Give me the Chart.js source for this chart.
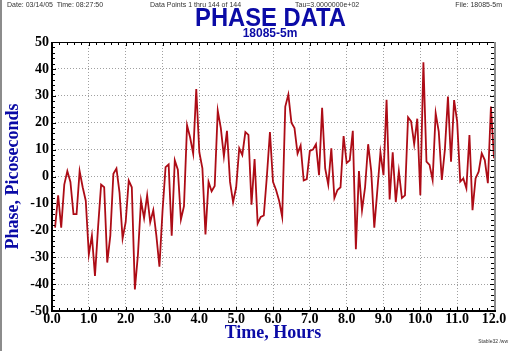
<!DOCTYPE html>
<html>
<head>
<meta charset="utf-8">
<script src="https://cdn.jsdelivr.net/npm/chart.js@4.4.1/dist/chart.umd.min.js"></script>
<style>
html, body { margin: 0; padding: 0; background: #fff; }
#wrap { position: relative; width: 512px; height: 351px; overflow: hidden; background: #fff; }
#edge { position: absolute; left: 0; top: 0; width: 2px; height: 351px; background: #8c8c8c; }
canvas { position: absolute; left: 0; top: 0; }
.hdr { position: absolute; top: 1px; font: 7px/7px 'Liberation Sans', Arial, sans-serif; color: #333; white-space: pre; }
#title { position: absolute; left: 0; width: 541px; top: 5px; text-align: center;
         font: bold 25px/25px 'Liberation Sans', Arial, sans-serif; color: #0b0ba6;
         transform: scaleX(0.95); transform-origin: 270.5px 0; }
#subtitle { position: absolute; left: 0; width: 540px; top: 27px; text-align: center;
            font: bold 12px/12px 'Liberation Sans', Arial, sans-serif; color: #0b0ba6; }
#footer { position: absolute; right: 4px; top: 339px; font: 5px/5px 'Liberation Sans', Arial, sans-serif; color: #333; }
</style>
</head>
<body>
<div id="wrap">
  <canvas id="phaseChart" width="512" height="351"></canvas>
  <div id="edge"></div>
  <div class="hdr" style="left:7px">Date: 03/14/05  Time: 08:27:50</div>
  <div class="hdr" style="left:150px">Data Points 1 thru 144 of 144</div>
  <div class="hdr" style="left:295px">Tau=3.0000000e+02</div>
  <div class="hdr" style="right:10px">File: 18085-5m</div>
  <div id="title">PHASE DATA</div>
  <div id="subtitle">18085-5m</div>
  <div id="footer">Stable32 /ww</div>
</div>
<script>
// sampling interval (s) and phase readings (ps), 144 points
const tauSeconds = 300;
const phasePs = [
  -19, -7, -19, -3, 2, -2, -14, -14, 2, -4,
  -9, -29, -22, -37, -19, -3, -4, -32, -22, 1,
  3, -6, -23, -17, -1.5, -4, -42, -29, -9, -15.5,
  -7, -17, -12.5, -22, -33.5, -13, 3.5, 4.5, -22, 6,
  2.5, -16, -11, 19, 14.5, 8.5, 32.5, 9, 3, -21.5,
  -2, -5.5, -3.5, 24.5, 18, 7.5, 17, -2, -9.5, -4,
  10.5, 8, 16.5, 15.5, -10.5, 6.5, -17.5, -15, -14.5, 0,
  16.5, -2, -5, -9, -15, 26, 30.5, 20, 18, 8.5,
  11.5, -1.5, -1, 9.5, 10, 12, 0.5, 25.5, 3, -3,
  10.5, -8, -5, -4, 15, 5, 6, 17, -27, 2,
  -12.5, -4, 12, 2, -19, -5, 9, 0.5, 28.5, -8.5,
  9, -9.5, 2, -8, -7, 22, 20.5, 12, 21.5, -7,
  42.5, 5.5, 4.3, -1.3, 23.5, 16.7, -1.3, 10, 29.7, 5.5,
  28.4, 20.4, -1.9, -0.7, -4.4, 15.4, -12.5, -0.7, 1.8, 8.6,
  6.1, -2.5, 26, 6.8
];
const xTickValues = [0, 1, 2, 3, 4, 5, 6, 7, 8, 9, 10, 11, 12];
const yTickValues = [-50, -40, -30, -20, -10, 0, 10, 20, 30, 40, 50];

const points = phasePs.map((v, i) => ({ x: (i + 1) * tauSeconds / 3600, y: v }));

const blue = '#0b0ba6';
const serifBold = { family: "'Liberation Serif', 'Times New Roman', serif", weight: 'bold' };

// frame lines and small inward ticks, like the original plot
const framePlugin = {
  id: 'frame',
  afterDraw(chart) {
    const ctx = chart.ctx;
    const ca = chart.chartArea;
    const xs = chart.scales.x, ys = chart.scales.y;
    ctx.save();
    // y ticks (every 2 units)
    ctx.strokeStyle = '#000';
    ctx.lineWidth = 1;
    ctx.beginPath();
    for (let v = -50; v <= 50; v += 2) {
      const y = Math.round(ys.getPixelForValue(v)) + 0.5;
      const len = v % 10 === 0 ? 4 : 3;
      ctx.moveTo(ca.left, y); ctx.lineTo(ca.left + len, y);
      ctx.moveTo(ca.right, y); ctx.lineTo(ca.right - len, y);
    }
    // x ticks (every 0.2 h)
    for (let k = 0; k <= 60; k++) {
      const x = Math.round(xs.getPixelForValue(k * 0.2)) + 0.5;
      const len = k % 5 === 0 ? 4 : 3;
      ctx.moveTo(x, ca.bottom); ctx.lineTo(x, ca.bottom - len);
      ctx.moveTo(x, ca.top); ctx.lineTo(x, ca.top + len);
    }
    ctx.stroke();
    // top line
    ctx.fillStyle = '#000';
    ctx.fillRect(ca.left, ca.top, ca.right - ca.left, 1);
    // right line (grey)
    ctx.fillStyle = '#8c8c8c';
    ctx.fillRect(ca.right, ca.top, 2, ca.bottom - ca.top + 1);
    // left and bottom axes
    ctx.fillStyle = '#000';
    ctx.fillRect(ca.left - 1, ca.top, 2, ca.bottom - ca.top + 1);
    ctx.fillRect(ca.left - 1, ca.bottom - 1, ca.right - ca.left + 3, 2);
    ctx.restore();
  }
};

new Chart(document.getElementById('phaseChart'), {
  type: 'line',
  data: {
    datasets: [{
      label: 'Phase',
      data: points,
      borderColor: '#ad0c16',
      borderWidth: 1.8,
      pointRadius: 0,
      tension: 0,
      fill: false
    }]
  },
  options: {
    responsive: false,
    animation: false,
    devicePixelRatio: 1,
    layout: { padding: { top: 42, right: 18, left: 0, bottom: 0 } },
    plugins: { legend: { display: false }, tooltip: { enabled: false } },
    scales: {
      x: {
        type: 'linear',
        min: 0,
        max: 12,
        afterBuildTicks: s => { s.ticks = xTickValues.map(v => ({ value: v })); },
        afterFit: s => { s.height = 40; },
        grid: { color: '#a0a0a0', lineWidth: 1, drawTicks: false },
        border: { display: false, dash: [1, 2] },
        ticks: {
          padding: 0,
          maxRotation: 0,
          autoSkip: false,
          color: '#000',
          font: { ...serifBold, size: 14 },
          callback: v => v.toFixed(1)
        },
        title: {
          display: true,
          text: 'Time, Hours',
          color: blue,
          font: { ...serifBold, size: 18 },
          padding: { top: 0, bottom: 7 }
        }
      },
      y: {
        min: -50,
        max: 50,
        afterBuildTicks: s => { s.ticks = yTickValues.map(v => ({ value: v })); },
        afterFit: s => { s.width = 52; },
        grid: { color: '#a0a0a0', lineWidth: 1, drawTicks: false },
        border: { display: false, dash: [1, 2] },
        ticks: {
          padding: 3,
          color: '#000',
          font: { ...serifBold, size: 14 }
        },
        title: {
          display: true,
          text: 'Phase, Picoseconds',
          color: blue,
          font: { ...serifBold, size: 18 },
          padding: { top: 3, bottom: 0 }
        }
      }
    }
  },
  plugins: [framePlugin]
});
</script>
</body>
</html>
